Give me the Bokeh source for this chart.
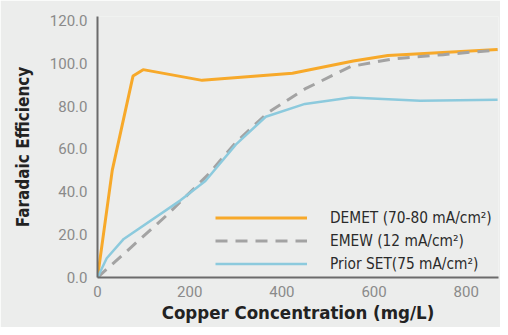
from bokeh.plotting import figure
from bokeh.models import Range1d, FixedTicker, NumeralTickFormatter
from bokeh.embed import file_html
from bokeh.resources import INLINE

# Data
demet_x = [0, 32, 77, 99, 227, 423, 555, 630, 868]
demet_y = [0, 50, 94, 97, 92, 95.3, 101, 103.6, 106.4]

emew_x = [0, 150, 240, 300, 370, 450, 550, 640, 750, 868]
emew_y = [0, 29, 48, 63, 77, 88, 98.5, 102, 104, 106.2]

prior_x = [0, 20, 57, 180, 234, 300, 365, 450, 550, 700, 868]
prior_y = [0, 9, 18, 36, 45, 62, 75, 81, 84, 82.5, 83]

x_ticks = [0, 200, 400, 600, 800]
y_ticks = [0, 20, 40, 60, 80, 100, 120]

labels = ["DEMET (70-80 mA/cm\u00b2)", "EMEW (12 mA/cm\u00b2)", "Prior SET(75 mA/cm\u00b2)"]

BG = "#ecedec"
TITLE_FONT = "DejaVu Sans Condensed"

p = figure(width=500, height=327, output_backend="svg", toolbar_location=None,
           x_range=Range1d(0, 870), y_range=Range1d(0, 121.8),
           min_border_left=97, min_border_right=2, min_border_top=16, min_border_bottom=50)

p.background_fill_color = BG
p.border_fill_color = BG
p.outline_line_color = None
p.grid.visible = False

p.line(demet_x, demet_y, line_color="#f7a92a", line_width=3, legend_label=labels[0])
p.line(emew_x, emew_y, line_color="#a3a3a3", line_width=3, line_dash="12 8", legend_label=labels[1])
p.line(prior_x, prior_y, line_color="#8ccadd", line_width=2.5, legend_label=labels[2])

for ax in (p.xaxis[0], p.yaxis[0]):
    ax.axis_line_color = "#6b6b6b"
    ax.axis_line_width = 2
    ax.major_tick_line_color = None
    ax.minor_tick_line_color = None
    ax.major_tick_out = 0
    ax.major_tick_in = 0
    ax.major_label_text_color = "#8a8a8a"
    ax.major_label_text_font = "Roboto"
    ax.major_label_text_font_size = "15px"
    ax.axis_label_text_font = TITLE_FONT
    ax.axis_label_text_font_style = "bold"
    ax.axis_label_text_color = "#222222"

p.xaxis[0].ticker = FixedTicker(ticks=x_ticks)
p.yaxis[0].ticker = FixedTicker(ticks=y_ticks)
p.yaxis[0].formatter = NumeralTickFormatter(format="0.0")
p.xaxis[0].axis_label = "Copper Concentration (mg/L)"
p.yaxis[0].axis_label = "Faradaic Efficiency"
p.xaxis[0].major_label_standoff = 8
p.yaxis[0].major_label_standoff = 10
p.xaxis[0].axis_label_text_font_size = "18.5px"
p.yaxis[0].axis_label_text_font_size = "17px"
p.xaxis[0].axis_label_standoff = 2
p.yaxis[0].axis_label_standoff = 14

lg = p.legend[0]
lg.location = (118, 2)
lg.background_fill_alpha = 0
lg.border_line_color = None
lg.padding = 0
lg.margin = 0
lg.spacing = 0
lg.glyph_width = 92
lg.glyph_height = 23
lg.label_height = 23
lg.label_standoff = 23
lg.label_text_font = TITLE_FONT
lg.label_text_font_size = "15.3px"
lg.label_text_color = "#2a2a2a"

open("out.html", "w").write(file_html(p, INLINE))
